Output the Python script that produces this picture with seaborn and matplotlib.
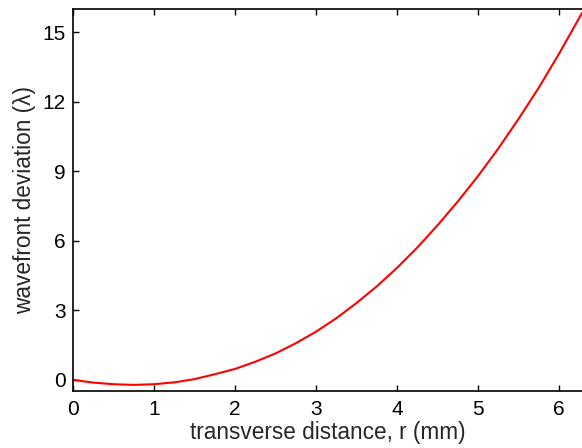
import matplotlib
matplotlib.use("Agg")
import matplotlib.pyplot as plt
import seaborn as sns
import pandas as pd

# values
r_mm = [0.0, 0.25, 0.5, 0.75, 1.0, 1.25, 1.5, 1.75, 2.0, 2.25, 2.5, 2.75, 3.0,
        3.25, 3.5, 3.75, 4.0, 4.25, 4.5, 4.75, 5.0, 5.25, 5.5, 5.75, 6.0, 6.28]
deviation = [0.0, -0.12, -0.19, -0.22, -0.19, -0.11, 0.03, 0.24, 0.47, 0.78,
             1.14, 1.58, 2.08, 2.66, 3.32, 4.04, 4.84, 5.72, 6.68, 7.71, 8.81,
             10.0, 11.28, 12.63, 14.1, 15.84]
x_ticks = [0, 1, 2, 3, 4, 5, 6]
y_ticks = [0, 3, 6, 9, 12, 15]

sns.set_style("ticks")
plt.rcParams['font.family'] = ['Liberation Sans', 'DejaVu Sans']

df = pd.DataFrame({"r": r_mm, "w": deviation})

fig = plt.figure(figsize=(5.82, 4.48), dpi=100)
ax = fig.add_axes([72.9 / 582, 57.3 / 448, 1 - 72.9 / 582, (438.7 - 57.3) / 448])
sns.lineplot(data=df, x="r", y="w", ax=ax, color="#ff0000", linewidth=1.5,
             sort=False, estimator=None)

ax.set_xlim(0, 6.28)
ax.set_ylim(-0.47, 16.0)
ax.set_xticks(x_ticks)
ax.set_yticks(y_ticks)
ax.set_xticklabels([str(v) for v in x_ticks])
ax.set_yticklabels([str(v) for v in y_ticks])
ax.tick_params(direction="in", length=4, width=1, labelsize=15, colors="black",
               top=True, right=False)
ax.tick_params(axis="x", pad=7)
ax.tick_params(axis="y", pad=5)
ax.spines["right"].set_visible(False)
for s in ax.spines.values():
    s.set_color("black")
    s.set_linewidth(1.2)
ax.set_xlabel("transverse distance, r (mm)", fontsize=16.3, labelpad=1)
ax.set_ylabel("wavefront deviation (λ)", fontsize=16.3, labelpad=5)

fig.savefig("out.png", dpi=100)
